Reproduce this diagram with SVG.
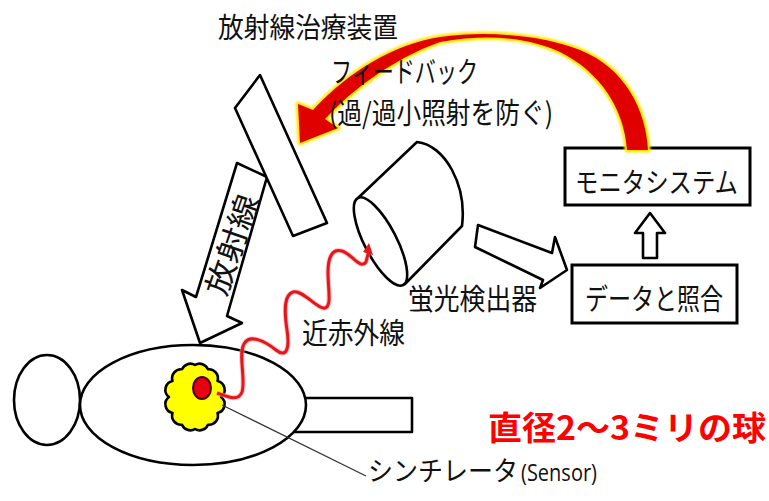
<svg xmlns="http://www.w3.org/2000/svg" width="769" height="501" viewBox="0 0 769 501">
  <style>
    .ln { fill: #fff; stroke: #000; stroke-width: 2.6; stroke-linejoin: round; }
    .box { fill: #fff; stroke: #000; stroke-width: 3; }
    .jp { font-family: "Noto Sans CJK JP", "Noto Sans", sans-serif; fill: #111; }
    .lbl { font-size: 29px; }
  </style>
  <defs>
    <filter id="glow" x="-10%" y="-10%" width="120%" height="120%">
      <feGaussianBlur stdDeviation="1"/>
    </filter>
  </defs>

  <rect width="769" height="501" fill="#fff"/>

  <!-- patient: head, legs, torso -->
  <g id="patient">
    <ellipse cx="47" cy="400" rx="33" ry="45" class="ln"/>
    <rect x="285" y="398" width="127" height="34" class="ln"/>
    <ellipse cx="193" cy="405" rx="113" ry="60" class="ln"/>
  </g>

  <!-- implanted scintillator sphere -->
  <g id="sensor">
    <path class="ln" style="fill:#ffff00" d="M221,397 A9,9 0 0 1 217.5,413 A9,9 0 0 1 208,424.7 A9,9 0 0 1 195,429 A9,9 0 0 1 182,424.7 A9,9 0 0 1 172.5,413 A9,9 0 0 1 169,397 A9,9 0 0 1 172.5,381 A9,9 0 0 1 182,369.3 A9,9 0 0 1 195,365 A9,9 0 0 1 208,369.3 A9,9 0 0 1 217.5,381 A9,9 0 0 1 221,397 Z"/>
    <ellipse cx="202" cy="388" rx="9" ry="11" fill="#e60012" stroke="#400" stroke-width="2"/>
  </g>

  <!-- radiation beam arrow -->
  <g id="beam">
    <polygon class="ln" points="237,163 267,177 227,316 242,323 200,343 182,290 196,297"/>
    <text class="jp" font-size="30" text-anchor="middle" textLength="104" lengthAdjust="spacingAndGlyphs" transform="translate(233,245) rotate(-71)" y="10">放射線</text>
  </g>

  <!-- radiotherapy head -->
  <g id="linac">
    <polygon class="ln" points="260,75 327,223 293,236 235,108"/>
    <text class="jp" x="218" y="38" font-size="28" textLength="180" lengthAdjust="spacingAndGlyphs">放射線治療装置</text>
  </g>

  <!-- fluorescence detector (cylinder) -->
  <g id="detector">
    <path class="ln" d="M358,198 L417,142 C445,145 467,185 462,226 L405,284 Z"/>
    <ellipse class="ln" cx="380.5" cy="241.5" rx="49" ry="16" transform="rotate(62.6 380.5 241.5)"/>
    <text class="jp lbl" x="408" y="310" textLength="129" lengthAdjust="spacingAndGlyphs">蛍光検出器</text>
  </g>

  <!-- data matching box -->
  <g id="data">
    <rect class="box" x="572" y="265" width="165" height="58"/>
    <text class="jp lbl" x="585" y="310" textLength="138" lengthAdjust="spacingAndGlyphs">データと照合</text>
  </g>

  <!-- monitor system box -->
  <g id="monitor">
    <rect class="box" x="565" y="148" width="185" height="57"/>
    <text class="jp" x="575" y="193" font-size="28" textLength="163" lengthAdjust="spacingAndGlyphs">モニタシステム</text>
  </g>

  <!-- connectors -->
  <g id="connectors">
    <!-- leader to sensor label -->
    <line x1="222" y1="405" x2="366" y2="476" stroke="#333" stroke-width="1.3"/>

    <!-- near-infrared wave from sensor to detector -->
    <path d="M217,393 C228,397 238,402 242,392 C246,380 238,355 244,344 C250,333 266,342 276,350 C286,358 290,350 287,330 C284,310 284,295 293,292 C302,289 318,310 325,308 C332,306 328,290 328,272 C328,258 332,248 342,251 C352,254 360,270 366,262 L369,250" fill="none" stroke="#f4a0a0" stroke-width="5" stroke-linejoin="round" opacity="0.6"/>
    <path d="M217,393 C228,397 238,402 242,392 C246,380 238,355 244,344 C250,333 266,342 276,350 C286,358 290,350 287,330 C284,310 284,295 293,292 C302,289 318,310 325,308 C332,306 328,290 328,272 C328,258 332,248 342,251 C352,254 360,270 366,262 L369,250" fill="none" stroke="#e8141c" stroke-width="3" stroke-linejoin="round"/>
    <polygon points="363,252 369,243 373,255" fill="#e8141c"/>

    <!-- detector to data box -->
    <polygon class="ln" points="478,225 552,253 555,237 567,270 540,288 543,280 475,247"/>

    <!-- data box to monitor -->
    <polygon class="ln" points="650,213 665,233 657,233 657,258 643,258 643,233 635,233"/>

    <!-- feedback arc from monitor back to the treatment head -->
    <path d="M648,150 C646,110 625,68 580,50 C545,36 490,30 440,37 C395,44 350,70 313,110 L298,104 L300,143 L338,128 L325,119 C350,92 390,60 440,42 C490,33 530,38 560,52 C600,72 624,108 627,150 Z" fill="#ffe800" stroke="#ffe800" stroke-width="5" stroke-linejoin="round" filter="url(#glow)"/>
    <path d="M648,150 C646,110 625,68 580,50 C545,36 490,30 440,37 C395,44 350,70 313,110 L298,104 L300,143 L338,128 L325,119 C350,92 390,60 440,42 C490,33 530,38 560,52 C600,72 624,108 627,150 Z" fill="#e00000"/>
  </g>

  <g id="labels">
    <text class="jp lbl" x="331" y="83" textLength="147" lengthAdjust="spacingAndGlyphs">フィードバック</text>
    <text class="jp lbl" x="329" y="124" textLength="224" lengthAdjust="spacingAndGlyphs">(過/過小照射を防ぐ)</text>
    <text class="jp lbl" x="302" y="344" textLength="103" lengthAdjust="spacingAndGlyphs">近赤外線</text>
    <text class="jp" x="368" y="481" font-size="27" textLength="150" lengthAdjust="spacingAndGlyphs">シンチレータ</text>
    <text x="521" y="481" font-family="'Open Sans', 'Liberation Sans', sans-serif" font-size="24" fill="#111" textLength="76" lengthAdjust="spacingAndGlyphs">(Sensor)</text>
    <text x="488" y="440" font-family="'Noto Sans CJK JP', sans-serif" font-size="33" font-weight="bold" fill="#ff0000" textLength="278" lengthAdjust="spacingAndGlyphs">直径2～3ミリの球</text>
  </g>
</svg>
